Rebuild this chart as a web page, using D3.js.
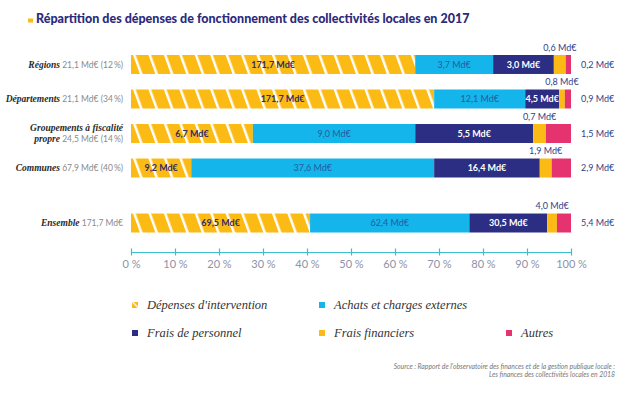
<!DOCTYPE html>
<html>
<head>
<meta charset="utf-8">
<script src="https://cdn.jsdelivr.net/npm/d3@7"></script>
<style>
  body { margin: 0; background: #fff; }
  svg { display: block; }
</style>
</head>
<body>
<div id="chart"></div>
<script>
// data
const categories = ["Régions", "Départements", "Groupements", "Communes", "Ensemble"];
const catNames = [["Régions"], ["Départements"], ["Groupements à fiscalité", "propre"], ["Communes"], ["Ensemble"]];
const catTotals = ["21,1 Md€ (12\u2009%)", "21,1 Md€ (34\u2009%)", "24,5 Md€ (14\u2009%)", "67,9 Md€ (40\u2009%)", "171,7 Md€"];
const seriesNames = ["Dépenses d'intervention", "Achats et charges externes", "Frais de personnel", "Frais financiers", "Autres"];

// share of each row, in %
const intervention = [64.6, 68.9, 27.7, 13.7, 40.7];
const achats = [17.7, 20.7, 36.9, 55.2, 36.2];
const personnel = [13.8, 7.7, 26.8, 24.0, 17.7];
const financiers = [2.7, 1.3, 2.9, 2.7, 2.2];
const autres = [1.2, 1.4, 5.7, 4.4, 3.2];

// printed amounts
const interventionLbl = ["171,7 Md€", "171,7 Md€", "6,7 Md€", "9,2 Md€", "69,5 Md€"];
const achatsLbl = ["3,7 Md€", "12,1 Md€", "9,0 Md€", "37,6 Md€", "62,4 Md€"];
const personnelLbl = ["3,0 Md€", "4,5 Md€", "5,5 Md€", "16,4 Md€", "30,5 Md€"];
const financiersLbl = ["0,6 Md€", "0,8 Md€", "0,7 Md€", "1,9 Md€", "4,0 Md€"];
const autresLbl = ["0,2 Md€", "0,9 Md€", "1,5 Md€", "2,9 Md€", "5,4 Md€"];

const ticks = [0, 10, 20, 30, 40, 50, 60, 70, 80, 90, 100];

const colors = ["url(#hatch)", "#13b5ea", "#2c2e83", "#fcbb14", "#e5336f"];
const YELLOW = "#fcbb14";

const W = 640, H = 396;
const svg = d3.select("#chart").append("svg").attr("width", W).attr("height", H);

const defs = svg.append("defs");
const pat = defs.append("pattern")
  .attr("id", "hatch")
  .attr("patternUnits", "userSpaceOnUse")
  .attr("width", 14.5).attr("height", 14.5)
  .attr("patternTransform", "translate(133,0) rotate(-20)");
pat.append("rect").attr("width", 14.5).attr("height", 14.5).attr("fill", YELLOW);
pat.append("rect").attr("width", 2.5).attr("height", 14.5).attr("fill", "#fff");

const patS = defs.append("pattern")
  .attr("id", "hatchS")
  .attr("patternUnits", "userSpaceOnUse")
  .attr("width", 6).attr("height", 6)
  .attr("patternTransform", "translate(132,302) rotate(-45)");
patS.append("rect").attr("width", 6).attr("height", 6).attr("fill", YELLOW);
patS.append("rect").attr("x", 2).attr("width", 1.3).attr("height", 6).attr("fill", "#fff");

// title
svg.append("rect").attr("x", 28).attr("y", 18.5).attr("width", 5).attr("height", 4).attr("fill", YELLOW);
svg.append("text")
  .attr("x", 36).attr("y", 22.5)
  .attr("font-family", "Lato").attr("font-weight", 900)
  .attr("font-size", 12.5).attr("fill", "#2c2a7c")
  .text("Répartition des dépenses de fonctionnement des collectivités locales en 2017");

const x = d3.scaleLinear().domain([0, 100]).range([131, 571]);
const y = d3.scaleBand().domain(categories).range([55, 212]).paddingInner(0.45);
const ensembleGap = 20.5;
const rowY = c => y(c) + (c === "Ensemble" ? ensembleGap : 0);
const bh = y.bandwidth();

const series = [intervention, achats, personnel, financiers, autres];
const labels = [interventionLbl, achatsLbl, personnelLbl, financiersLbl, autresLbl];

const rows = categories.map((c, i) => {
  let acc = 0;
  const segs = series.map((s, k) => {
    const seg = { k, x0: acc, x1: acc + s[i], label: labels[k][i] };
    acc += s[i];
    return seg;
  });
  return { c, i, segs };
});

const g = svg.append("g");
const row = g.selectAll(".row").data(rows).join("g")
  .attr("class", "row")
  .attr("transform", d => `translate(0,${rowY(d.c)})`);

row.selectAll("rect").data(d => d.segs).join("rect")
  .attr("x", d => x(d.x0))
  .attr("width", d => x(d.x1) - x(d.x0))
  .attr("y", 0).attr("height", bh)
  .attr("fill", d => colors[d.k]);

// labels inside the first three segments
const inFill = ["#342d63", "#2a5aa0", "#ffffff"];
row.selectAll(".inl").data(d => d.segs.filter(s => s.k < 3)).join("text")
  .attr("class", "inl")
  .attr("x", d => (x(d.x0) + x(d.x1)) / 2)
  .attr("y", bh / 2 + 3.3)
  .attr("text-anchor", "middle")
  .attr("font-family", "Lato").attr("font-size", 9)
  .attr("font-weight", d => d.k === 1 ? 400 : 700)
  .attr("fill", d => inFill[d.k])
  .text(d => d.label);

// frais financiers: above the bar
row.append("text")
  .attr("x", d => (x(d.segs[3].x0) + x(d.segs[3].x1)) / 2)
  .attr("y", -4.5)
  .attr("text-anchor", "middle")
  .attr("font-family", "Lato").attr("font-size", 9)
  .attr("fill", "#34408a")
  .text(d => d.segs[3].label);

// autres: right of the bar
row.append("text")
  .attr("x", x(100) + 10)
  .attr("y", bh / 2 + 3.3)
  .attr("font-family", "Lato").attr("font-size", 9)
  .attr("fill", "#34408a")
  .text(d => d.segs[4].label);

// category labels
row.each(function (d) {
  const t = d3.select(this).append("text")
    .attr("text-anchor", "end")
    .attr("font-size", 8.5);
  const names = catNames[d.i];
  const base = bh / 2 + 3.3 - (names.length - 1) * 5.5;
  names.forEach((n, j) => {
    const last = j === names.length - 1;
    const line = t.append("tspan").attr("x", 123).attr("y", base + j * 11);
    line.append("tspan")
      .attr("font-family", "Liberation Serif").attr("font-style", "italic")
      .attr("font-weight", 700).attr("font-size", 9.5).attr("fill", "#2a2a2a")
      .text(n);
    if (last) {
      line.append("tspan")
        .attr("font-family", "Lato").attr("fill", "#8a8a8a")
        .text(" " + catTotals[d.i]);
    }
  });
});

// axis
const axisG = svg.append("g")
  .attr("transform", "translate(0,252)")
  .call(d3.axisBottom(x).tickValues(ticks).tickSizeOuter(0).tickSizeInner(3)
    .tickFormat(d => d + "\u202f%"));
axisG.select(".domain").attr("stroke", "#3dbcd0").attr("stroke-width", 1.2);
axisG.selectAll(".tick line").attr("y1", -3.5).attr("y2", 3.5).attr("stroke", "#3dbcd0").attr("stroke-width", 1.2);
axisG.selectAll(".tick text")
  .attr("y", 8).attr("dy", "0.71em")
  .attr("font-family", "Lato").attr("font-size", 11)
  .attr("fill", "#8d92a8");

// legend
const legendPos = [[132, 305], [319, 305], [132, 333], [319, 333], [506, 333]];
const legendFill = ["url(#hatchS)", "#13b5ea", "#2c2e83", "#fcbb14", "#e5336f"];
const leg = svg.selectAll(".leg").data(seriesNames).join("g")
  .attr("class", "leg")
  .attr("transform", (d, i) => `translate(${legendPos[i][0]},${legendPos[i][1]})`);
leg.append("rect")
  .attr("x", 0).attr("y", -3).attr("width", 6).attr("height", 6)
  .attr("fill", (d, i) => legendFill[i]);
leg.append("text")
  .attr("x", 15).attr("y", 4)
  .attr("font-family", "Liberation Serif").attr("font-style", "italic")
  .attr("font-size", 12.5).attr("fill", "#333")
  .text(d => d);

// source
svg.append("text")
  .attr("text-anchor", "end")
  .attr("font-family", "Lato").attr("font-style", "italic")
  .attr("font-size", 6.8).attr("fill", "#777")
  .selectAll("tspan")
  .data(["Source : Rapport de l'observatoire des finances et de la gestion publique locale :",
         "Les finances des collectivités locales en 2018"])
  .join("tspan")
  .attr("x", 615).attr("y", (d, i) => 369 + i * 7.5)
  .text(d => d);
</script>
</body>
</html>
